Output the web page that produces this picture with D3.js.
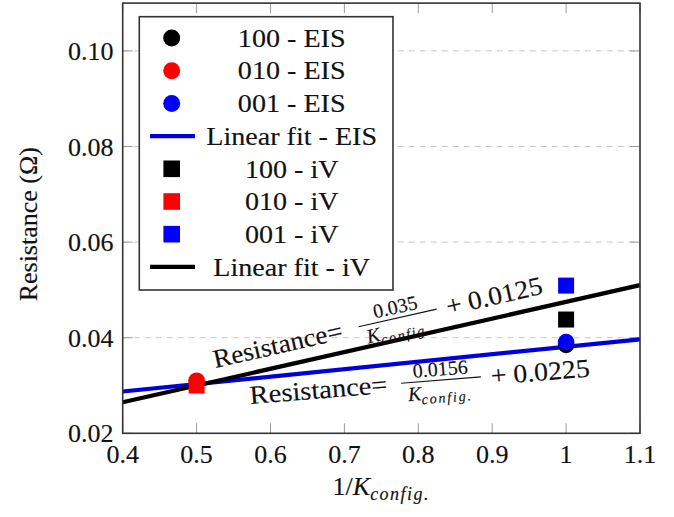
<!DOCTYPE html>
<html><head><meta charset="utf-8">
<script src="https://cdn.jsdelivr.net/npm/d3@7/dist/d3.min.js"></script>
<style>
html,body{margin:0;padding:0;background:#fff;}
svg text{font-family:"Liberation Serif","DejaVu Serif",serif;stroke:#111;stroke-width:0.15px;}
</style></head>
<body>
<svg id="chart" width="674" height="517" font-family="Liberation Serif, DejaVu Serif, serif"></svg>
<script>
// ---- data ----
const xTicks = [0.4, 0.5, 0.6, 0.7, 0.8, 0.9, 1.0, 1.1];
const xTickLabels = ["0.4", "0.5", "0.6", "0.7", "0.8", "0.9", "1", "1.1"];
const yTicks = [0.02, 0.04, 0.06, 0.08, 0.10];
const yTickLabels = ["0.02", "0.04", "0.06", "0.08", "0.10"];

const eisNames = ["100 - EIS", "010 - EIS", "001 - EIS"];
const eisX = [1.0, 0.5, 1.0];
const eisY = [0.0385, 0.0310, 0.0391];

const ivNames = ["100 - iV", "010 - iV", "001 - iV"];
const ivX = [1.0, 0.5, 1.0];
const ivY = [0.0438, 0.0300, 0.0509];

const pointColors = ["#000000", "#ff0000", "#0000ff"];

const fitEIS = { name: "Linear fit - EIS", slope: 0.0156, intercept: 0.0225, num: "0.0156", add: "+ 0.0225", color: "#0000dd" };
const fitIV  = { name: "Linear fit - iV",  slope: 0.035,  intercept: 0.0125, num: "0.035",  add: "+ 0.0125", color: "#000000" };

const xDomain = [0.4, 1.1];
const yDomain = [0.02, 0.11];

// ---- drawing ----
const svg = d3.select("#chart");
const L = 122.7, R = 640, T = 3.1, B = 433.3;
const x = d3.scaleLinear().domain(xDomain).range([L, R]);
const y = d3.scaleLinear().domain(yDomain).range([B, T]);

const FS = 26;
const FF = "Liberation Serif, DejaVu Serif, serif";

// grid
svg.append("g").selectAll("line").data(yTicks.slice(1)).join("line")
  .attr("x1", L).attr("x2", R).attr("y1", d => y(d)).attr("y2", d => y(d))
  .attr("stroke", "#c8c8c8").attr("stroke-width", 1).attr("stroke-dasharray", "6,5");

// ticks inward on all sides
const tickLen = 10, tickCol = "#9a9a9a";
const tg = svg.append("g").attr("stroke", tickCol).attr("stroke-width", 1);
xTicks.forEach(t => {
  tg.append("line").attr("x1", x(t)).attr("x2", x(t)).attr("y1", B).attr("y2", B - tickLen);
  tg.append("line").attr("x1", x(t)).attr("x2", x(t)).attr("y1", T).attr("y2", T + tickLen);
});
yTicks.forEach(t => {
  tg.append("line").attr("x1", L).attr("x2", L + tickLen).attr("y1", y(t)).attr("y2", y(t));
  tg.append("line").attr("x1", R).attr("x2", R - tickLen).attr("y1", y(t)).attr("y2", y(t));
});

// tick labels
svg.append("g").selectAll("text").data(xTicks).join("text")
  .attr("x", d => x(d)).attr("y", 463).attr("text-anchor", "middle").attr("font-family", FF)
  .attr("font-size", FS).attr("fill", "#111").text((d, i) => xTickLabels[i]);
svg.append("g").selectAll("text").data(yTicks).join("text")
  .attr("x", 113.5).attr("y", d => y(d) + 9).attr("text-anchor", "end").attr("font-family", FF)
  .attr("font-size", FS).attr("fill", "#111").text((d, i) => yTickLabels[i]);

// fit lines
const lineGen = d3.line().x(d => x(d[0])).y(d => y(d[1]));
[fitEIS, fitIV].forEach(f => {
  const pts = xDomain.map(v => [v, f.slope * v + f.intercept]);
  svg.append("path").attr("d", lineGen(pts)).attr("fill", "none")
    .attr("stroke", f.color).attr("stroke-width", 4.2);
});

// markers: squares (iV) then circles (EIS)
const sq = 16;
svg.append("g").selectAll("rect").data(ivX).join("rect")
  .attr("x", (d) => x(d) - sq / 2).attr("y", (d, i) => y(ivY[i]) - sq / 2)
  .attr("width", sq).attr("height", sq).attr("fill", (d, i) => pointColors[i]);
svg.append("g").selectAll("circle").data(eisX).join("circle")
  .attr("cx", d => x(d)).attr("cy", (d, i) => y(eisY[i])).attr("r", 8.3)
  .attr("fill", (d, i) => pointColors[i]);

// frame
svg.append("rect").attr("x", L).attr("y", T).attr("width", R - L).attr("height", B - T)
  .attr("fill", "none").attr("stroke", "#333").attr("stroke-width", 1.6);

// annotations
function annotate(f, xStart, angle, offset, parts) {
  const px = x(xStart), py = y(f.slope * xStart + f.intercept);
  const g = svg.append("g").attr("transform", `translate(${px},${py}) rotate(${-angle}) translate(0,${offset})`)
    .attr("fill", "#111").attr("font-family", FF);
  g.append("text").attr("x", 0).attr("y", 0).attr("font-size", FS).attr("font-family", FF)
    .attr("textLength", parts.resW).attr("lengthAdjust", "spacingAndGlyphs").text("Resistance=");
  const fc = (parts.f0 + parts.f1) / 2;
  g.append("text").attr("x", fc).attr("y", -13).attr("font-size", 20).attr("font-family", FF)
    .attr("text-anchor", "middle").text(f.num);
  g.append("line").attr("x1", parts.f0).attr("x2", parts.f1).attr("y1", -8.5).attr("y2", -8.5)
    .attr("stroke", "#111").attr("stroke-width", 1.1);
  const den = g.append("text").attr("x", fc - 2).attr("y", 10).attr("font-size", 20).attr("font-family", FF)
    .attr("text-anchor", "middle");
  den.append("tspan").attr("font-style", "italic").text("K");
  den.append("tspan").attr("font-style", "italic").attr("font-size", 14).attr("dy", 4).attr("letter-spacing", 1.8).text("config.");
  g.append("text").attr("x", parts.a0).attr("y", 0).attr("font-size", FS).attr("font-family", FF)
    .attr("textLength", parts.aW).attr("lengthAdjust", "spacingAndGlyphs").text(f.add);
}
const angIV = Math.atan2(y(0.4 * fitIV.slope + fitIV.intercept) - y(1.1 * fitIV.slope + fitIV.intercept), x(1.1) - x(0.4)) * 180 / Math.PI;
annotate(fitIV, 0.529, angIV, -13, { resW: 132, f0: 149, f1: 229, a0: 239, aW: 98 });
annotate(fitEIS, 0.570, 4.6, 25.2, { resW: 138, f0: 152, f1: 232, a0: 242, aW: 99 });

// legend
const lgX = 139.3, lgY = 16.7, lgW = 253.7, lgH = 273.3;
const lg = svg.append("g");
lg.append("rect").attr("x", lgX).attr("y", lgY).attr("width", lgW).attr("height", lgH)
  .attr("fill", "#fff").attr("stroke", "#333").attr("stroke-width", 1.6);
const legendItems = [
  ...eisNames.map((n, i) => ({ name: n, type: "circle", color: pointColors[i] })),
  { name: fitEIS.name, type: "line", color: fitEIS.color },
  ...ivNames.map((n, i) => ({ name: n, type: "square", color: pointColors[i] })),
  { name: fitIV.name, type: "line", color: fitIV.color }
];
const rowY = i => 38 + i * 32.7;
const mx = 171.7, tx = 291.7;
legendItems.forEach((it, i) => {
  const cy = rowY(i);
  if (it.type === "circle") lg.append("circle").attr("cx", mx).attr("cy", cy).attr("r", 8.5).attr("fill", it.color);
  else if (it.type === "square") lg.append("rect").attr("x", mx - 8.3).attr("y", cy - 8.3).attr("width", 16.6).attr("height", 16.6).attr("fill", it.color);
  else lg.append("line").attr("x1", 150).attr("x2", 195).attr("y1", cy).attr("y2", cy).attr("stroke", it.color).attr("stroke-width", 4.2);
  const t = lg.append("text").attr("x", tx).attr("y", cy + 8.7).attr("text-anchor", "middle").attr("font-family", FF)
    .attr("font-size", FS).attr("fill", "#111").text(it.name);
  const w = t.node().getComputedTextLength();
  t.attr("textLength", w * 1.08).attr("lengthAdjust", "spacingAndGlyphs");
});

// axis labels
svg.append("text").attr("transform", `translate(37,${(T + B) / 2 + 6}) rotate(-90)`).attr("font-family", FF)
  .attr("text-anchor", "middle").attr("font-size", FS).attr("fill", "#111").text("Resistance (Ω)");
const xl = svg.append("text").attr("x", (L + R) / 2).attr("y", 495).attr("text-anchor", "middle").attr("font-family", FF)
  .attr("font-size", FS).attr("fill", "#111");
xl.append("tspan").text("1/");
xl.append("tspan").attr("font-style", "italic").text("K");
xl.append("tspan").attr("font-style", "italic").attr("font-size", 18).attr("dy", 5).attr("letter-spacing", 1.5).text("config.");
</script>
</body></html>
